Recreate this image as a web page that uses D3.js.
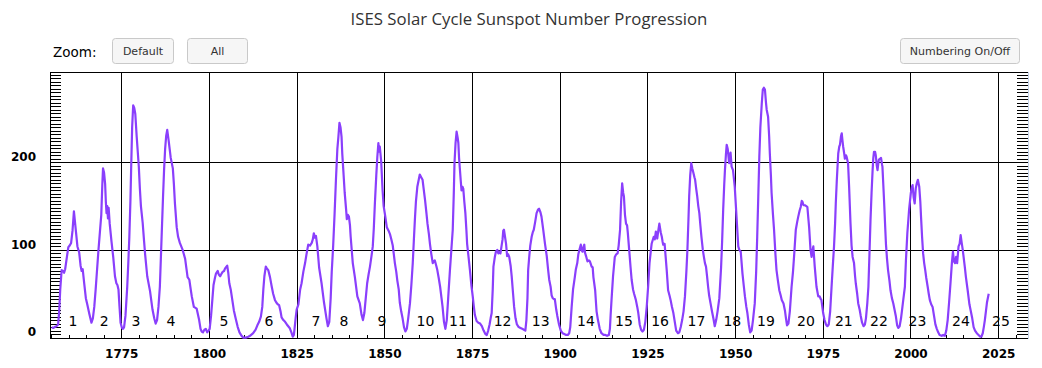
<!DOCTYPE html>
<html>
<head>
<meta charset="utf-8">
<script src="https://cdn.jsdelivr.net/npm/d3@7"></script>
<style>
  html, body { margin: 0; padding: 0; background: #ffffff; }
  svg { display: block; }
</style>
</head>
<body>
<svg id="chart" width="1042" height="368"></svg>
<script>
// ---------------- DATA ----------------
const chartTitle = "ISES Solar Cycle Sunspot Number Progression";
const buttonLabels = ["Default", "All", "Numbering On/Off"];

// Smoothed sunspot number: [year, value]
const ssnSeries = [
  // cycle 1
  [1755.2,12],[1755.6,11],[1756.0,12],[1756.5,13],[1757.0,15],[1757.3,30],[1757.6,55],[1758.0,77],[1758.4,76],[1758.7,74],[1759.0,78],[1759.5,92],[1759.9,103],[1760.3,105],[1760.7,108],[1761.1,122],[1761.5,144],[1761.8,132],[1762.1,120],[1762.5,104],[1763.0,97],[1763.4,82],[1763.7,76],[1764.0,78],[1764.4,63],[1764.9,45],[1765.3,38],[1765.9,27],[1766.5,17],
  // cycle 2
  [1766.9,22],[1767.3,35],[1767.7,55],[1768.0,72],[1768.5,100],[1768.9,120],[1769.3,140],[1769.6,175],[1769.8,193],[1770.1,188],[1770.4,175],[1770.6,155],[1770.8,142],[1771.0,150],[1771.2,136],[1771.4,148],[1771.7,130],[1772.2,110],[1772.7,92],[1773.2,70],[1773.6,62],[1773.9,60],[1774.2,55],[1774.5,35],[1774.8,17],[1775.2,11],[1775.5,10],
  // cycle 3
  [1775.8,12],[1776.2,25],[1776.7,58],[1777.0,85],[1777.3,115],[1777.6,155],[1777.8,190],[1778.1,240],[1778.4,265],[1778.7,262],[1779.0,255],[1779.4,229],[1779.7,212],[1780.0,195],[1780.3,170],[1780.6,150],[1781.1,131],[1781.5,110],[1781.8,95],[1782.4,70],[1783.2,53],[1783.9,32],[1784.4,22],[1784.8,16],
  // cycle 4
  [1785.2,20],[1785.6,35],[1786.0,58],[1786.5,115],[1786.9,160],[1787.2,191],[1787.5,215],[1787.8,230],[1788.1,237],[1788.5,225],[1788.8,215],[1789.1,205],[1789.4,199],[1789.7,193],[1790.0,175],[1790.3,153],[1790.8,126],[1791.2,115],[1791.7,108],[1792.5,100],[1793.2,90],[1793.6,78],[1793.9,69],[1794.4,66],[1794.8,55],[1795.1,47],[1795.7,35],[1796.5,33],[1797.2,20],[1797.6,10],[1797.9,7],[1798.3,6],[1798.7,9],[1799.1,10],[1799.5,6],[1799.9,8],
  // cycle 5
  [1800.2,10],[1800.6,25],[1801.0,45],[1801.3,60],[1801.7,68],[1802.0,73],[1802.5,76],[1802.8,72],[1803.2,70],[1803.6,73],[1803.9,75],[1804.3,76],[1804.6,79],[1805.2,82],[1805.5,74],[1805.8,62],[1806.2,55],[1806.5,47],[1807.1,31],[1807.6,22],[1808.2,12],[1808.7,6],[1809.3,2],[1809.8,0],[1810.5,0],[1811.2,1],[1811.7,2],
  // cycle 6
  [1812.6,5],[1813.3,9],[1813.8,14],[1814.3,18],[1814.8,24],[1815.2,35],[1815.5,55],[1815.8,70],[1816.2,81],[1816.5,79],[1816.9,77],[1817.4,69],[1817.9,58],[1818.3,50],[1818.8,43],[1819.2,40],[1819.6,38],[1820.0,37],[1820.4,30],[1820.7,23],[1821.2,20],[1821.7,18],[1822.2,15],[1822.6,13],[1823.0,11],[1823.5,6],[1823.9,1],[1824.2,3],
  // cycle 7
  [1824.4,10],[1824.7,22],[1825.0,32],[1825.5,38],[1826.0,55],[1826.4,62],[1826.9,75],[1827.4,85],[1827.8,95],[1828.3,106],[1828.8,105],[1829.3,108],[1829.6,112],[1829.9,119],[1830.2,114],[1830.5,116],[1830.9,104],[1831.4,80],[1832.1,62],[1832.8,40],[1833.5,22],[1833.9,13],
  // cycle 8
  [1834.3,18],[1834.7,45],[1835.0,75],[1835.4,104],[1835.8,140],[1836.2,180],[1836.6,215],[1836.9,229],[1837.2,245],[1837.5,240],[1837.8,229],[1838.0,210],[1838.3,191],[1838.7,165],[1839.1,146],[1839.3,135],[1839.6,140],[1839.9,138],[1840.2,128],[1840.4,115],[1841.0,85],[1841.6,69],[1842.3,47],[1843.0,39],[1843.5,26],[1843.9,20],
  // cycle 9
  [1844.3,28],[1844.7,45],[1845.1,62],[1845.5,72],[1845.9,81],[1846.3,92],[1846.7,104],[1847.0,125],[1847.3,153],[1847.7,185],[1848.0,206],[1848.3,222],[1848.5,212],[1848.7,218],[1849.1,201],[1849.5,168],[1849.8,150],[1850.2,140],[1850.7,126],[1851.2,122],[1851.6,118],[1852.0,112],[1852.4,105],[1852.7,95],[1853.0,85],[1853.4,75],[1853.7,65],[1854.1,55],[1854.4,40],[1854.8,30],[1855.2,22],[1855.6,12],[1856.0,7],
  // cycle 10
  [1856.4,10],[1856.8,22],[1857.3,39],[1857.7,60],[1858.1,85],[1858.4,110],[1858.7,134],[1859.0,155],[1859.4,172],[1859.8,180],[1860.1,186],[1860.5,183],[1860.9,180],[1861.2,170],[1861.6,157],[1862.0,142],[1862.3,130],[1862.7,118],[1863.0,107],[1863.4,95],[1863.8,85],[1864.1,87],[1864.4,88],[1864.8,82],[1865.1,77],[1865.5,68],[1865.9,58],[1866.3,45],[1866.6,35],[1867.0,18],[1867.4,10],
  // cycle 11
  [1867.8,20],[1868.2,45],[1868.7,77],[1869.1,100],[1869.5,123],[1869.8,165],[1870.0,199],[1870.3,222],[1870.6,235],[1870.9,228],[1871.1,222],[1871.3,205],[1871.5,194],[1871.8,178],[1872.0,168],[1872.3,172],[1872.5,170],[1872.8,155],[1873.1,142],[1873.4,122],[1873.6,107],[1874.0,92],[1874.4,77],[1874.8,60],[1875.2,47],[1875.5,36],[1875.8,26],[1876.3,19],[1876.8,17],[1877.3,16],[1877.8,13],[1878.3,8],[1878.8,4],[1879.2,3],[1879.6,8],
  // cycle 12
  [1880.0,15],[1880.3,22],[1880.6,28],[1880.9,55],[1881.1,81],[1881.5,92],[1881.8,98],[1882.2,100],[1882.5,96],[1882.8,98],[1883.1,96],[1883.4,104],[1883.7,112],[1883.9,122],[1884.1,123],[1884.4,115],[1884.7,107],[1885.0,93],[1885.3,95],[1885.6,92],[1886.0,82],[1886.3,70],[1886.7,50],[1887.0,35],[1887.4,22],[1887.8,15],[1888.3,12],[1888.8,11],[1889.3,10],[1889.8,9],[1890.2,8],
  // cycle 13
  [1890.5,20],[1890.8,45],[1891.0,77],[1891.3,92],[1891.6,105],[1892.0,115],[1892.3,120],[1892.6,123],[1893.0,132],[1893.4,142],[1893.8,146],[1894.1,147],[1894.5,143],[1894.8,138],[1895.3,123],[1895.8,107],[1896.3,93],[1896.7,77],[1897.0,66],[1897.4,58],[1897.7,48],[1898.0,45],[1898.3,44],[1898.6,44],[1899.0,32],[1899.3,25],[1899.8,15],[1900.3,8],[1900.8,5],[1901.3,4],[1901.8,3],[1902.3,3],[1902.7,5],
  // cycle 14
  [1903.0,12],[1903.4,35],[1903.8,55],[1904.3,69],[1904.6,78],[1905.0,85],[1905.3,95],[1905.6,100],[1906.0,106],[1906.2,100],[1906.5,98],[1906.8,104],[1907.0,106],[1907.2,97],[1907.5,93],[1907.9,87],[1908.3,88],[1908.6,87],[1909.1,81],[1909.4,80],[1909.6,69],[1910.1,54],[1910.5,30],[1910.9,20],[1911.4,10],[1911.9,5],[1912.5,3],[1913.0,3],[1913.5,2],[1914.0,3],[1914.3,10],
  // cycle 15
  [1914.5,25],[1914.8,45],[1915.2,70],[1915.7,92],[1916.1,95],[1916.5,96],[1916.8,105],[1917.2,123],[1917.5,155],[1917.8,176],[1918.1,165],[1918.3,161],[1918.6,140],[1918.9,130],[1919.2,128],[1919.4,120],[1919.8,100],[1920.2,80],[1920.5,66],[1920.9,55],[1921.2,50],[1921.7,43],[1922.1,35],[1922.4,28],[1922.8,15],[1923.2,9],[1923.6,7],[1924.0,9],
  // cycle 16
  [1924.4,18],[1924.8,35],[1925.2,58],[1925.6,85],[1926.0,100],[1926.2,107],[1926.8,115],[1927.1,112],[1927.4,121],[1927.8,113],[1928.1,122],[1928.4,130],[1928.8,120],[1929.1,115],[1929.3,110],[1929.5,106],[1929.9,107],[1930.2,92],[1930.5,77],[1930.9,54],[1931.3,48],[1931.6,43],[1932.0,35],[1932.4,28],[1932.8,18],[1933.2,8],[1933.7,5],[1934.1,6],
  // cycle 17
  [1934.5,12],[1934.9,20],[1935.3,30],[1935.7,47],[1936.1,75],[1936.4,100],[1936.7,135],[1936.9,161],[1937.2,185],[1937.5,199],[1937.8,193],[1938.1,188],[1938.4,183],[1938.6,180],[1938.9,170],[1939.2,161],[1939.5,150],[1939.8,142],[1940.1,128],[1940.4,115],[1940.8,100],[1941.1,92],[1941.4,85],[1941.7,81],[1942.0,70],[1942.3,58],[1942.6,48],[1943.0,39],[1943.4,30],[1943.8,22],[1944.2,13],
  // cycle 18
  [1944.6,20],[1945.0,30],[1945.5,45],[1946.0,80],[1946.3,110],[1946.6,146],[1946.9,175],[1947.1,191],[1947.4,210],[1947.6,220],[1947.9,215],[1948.0,211],[1948.3,199],[1948.5,205],[1948.7,211],[1949.0,195],[1949.4,191],[1949.9,172],[1950.4,138],[1950.9,104],[1951.2,100],[1951.6,98],[1952.1,73],[1952.5,58],[1952.8,47],[1953.2,35],[1953.5,28],[1953.9,15],[1954.3,6],
  // cycle 19
  [1954.7,8],[1955.1,20],[1955.6,39],[1956.0,75],[1956.3,115],[1956.6,160],[1956.9,206],[1957.2,240],[1957.6,267],[1957.9,283],[1958.2,285],[1958.5,283],[1958.8,268],[1959.0,260],[1959.4,252],[1959.7,230],[1959.9,210],[1960.2,185],[1960.4,165],[1960.8,140],[1961.1,123],[1961.5,95],[1961.8,77],[1962.2,65],[1962.6,54],[1963.0,48],[1963.3,43],[1963.8,39],[1964.2,31],[1964.5,22],[1964.8,14],
  // cycle 20
  [1965.2,16],[1965.6,30],[1966.1,58],[1966.5,75],[1966.8,92],[1967.3,123],[1967.7,132],[1968.0,138],[1968.4,145],[1968.7,149],[1969.0,156],[1969.2,155],[1969.5,151],[1969.9,151],[1970.3,150],[1970.6,149],[1970.9,135],[1971.1,126],[1971.5,100],[1971.8,92],[1972.0,98],[1972.3,104],[1972.7,81],[1973.2,58],[1973.7,47],[1974.1,47],[1974.4,44],[1974.6,43],[1975.1,28],[1975.5,20],[1975.9,15],[1976.3,13],
  // cycle 21
  [1976.7,15],[1977.1,30],[1977.5,58],[1977.9,85],[1978.2,104],[1978.5,130],[1978.7,153],[1979.0,180],[1979.4,210],[1979.7,218],[1979.9,220],[1980.2,230],[1980.4,233],[1980.6,225],[1980.8,218],[1981.1,210],[1981.3,204],[1981.6,208],[1981.8,206],[1982.2,199],[1982.5,172],[1982.9,130],[1983.2,105],[1983.5,92],[1983.9,85],[1984.2,70],[1984.4,62],[1984.8,50],[1985.1,39],[1985.5,32],[1985.8,25],[1986.2,17],[1986.6,13],
  // cycle 22
  [1987.0,15],[1987.3,22],[1987.7,40],[1988.0,58],[1988.3,95],[1988.6,134],[1988.9,165],[1989.2,191],[1989.4,205],[1989.6,212],[1989.9,212],[1990.1,208],[1990.4,196],[1990.6,191],[1990.8,198],[1991.0,203],[1991.3,204],[1991.6,205],[1991.9,197],[1992.0,195],[1992.3,170],[1992.5,153],[1992.8,125],[1993.0,107],[1993.3,90],[1993.6,77],[1994.0,65],[1994.3,54],[1994.7,45],[1995.1,39],[1995.4,33],[1995.8,25],[1996.2,14],[1996.5,11],
  // cycle 23
  [1996.9,13],[1997.3,22],[1997.7,35],[1998.0,45],[1998.4,58],[1998.7,88],[1999.1,119],[1999.4,135],[1999.6,146],[2000.1,165],[2000.4,172],[2000.6,174],[2000.9,160],[2001.2,153],[2001.5,170],[2001.8,176],[2002.1,180],[2002.5,172],[2002.8,155],[2003.0,138],[2003.3,115],[2003.6,96],[2003.9,85],[2004.2,77],[2004.5,68],[2004.9,58],[2005.2,50],[2005.5,43],[2005.9,38],[2006.3,35],[2006.7,25],[2007.1,15],[2007.5,10],[2007.9,6],[2008.3,3],[2008.9,2],[2009.3,3],
  // cycle 24
  [2009.8,2],[2010.2,8],[2010.6,20],[2011.0,40],[2011.4,62],[2011.8,85],[2012.1,98],[2012.4,87],[2012.7,85],[2013.0,92],[2013.3,85],[2013.7,104],[2014.0,107],[2014.3,117],[2014.6,108],[2014.9,100],[2015.2,90],[2015.5,80],[2015.8,69],[2016.3,54],[2016.8,38],[2017.2,30],[2017.6,22],[2018.0,12],[2018.4,8],[2018.9,5],[2019.4,3],[2019.9,1],[2020.2,1],
  // cycle 25
  [2020.6,5],[2020.9,12],[2021.2,20],[2021.5,30],[2021.8,40],[2022.3,50]
];

const cycleNumbers = ["1","2","3","4","5","6","7","8","9","10","11","12","13","14","15","16","17","18","19","20","21","22","23","24","25"];
const cycleLabelYears = [1761.2,1770.1,1779.2,1789.2,1804.3,1817.1,1830.5,1838.5,1849.3,1861.7,1871.0,1883.7,1894.6,1907.5,1918.3,1928.6,1939.0,1949.2,1958.8,1970.2,1981.0,1991.0,2002.0,2014.4,2025.8];

const xMajorTicks = [1775, 1800, 1825, 1850, 1875, 1900, 1925, 1950, 1975, 2000, 2025];
const yLabelTicks = [0, 100, 200];
const yGridTicks = [100, 200];

// ---------------- LAYOUT ----------------
const L = 50, R = 1028, T = 72.5, B = 337.6;
const svg = d3.select("#chart");

const x = d3.scaleLinear().domain([1754.68, 2033.5]).range([L, R]);
const y = d3.scaleLinear().domain([0, 302.4]).range([B, T]);

const xMinorTicks = d3.range(1755, 2034, 5);
const yMinorTicks = d3.range(0, 303, 4);

// title
svg.append("text")
  .attr("x", 529).attr("y", 25)
  .attr("text-anchor", "middle")
  .style("font-family", "'Open Sans', sans-serif")
  .style("font-size", "16.8px")
  .style("fill", "#333333")
  .text(chartTitle);

// Zoom label + buttons
svg.append("text")
  .attr("x", 53).attr("y", 57)
  .style("font-family", "'DejaVu Sans', Verdana, sans-serif")
  .style("font-size", "13.5px")
  .style("fill", "#000")
  .text("Zoom:");

const buttons = [
  {label: buttonLabels[0], x0: 112.5, x1: 173.5},
  {label: buttonLabels[1], x0: 187.5, x1: 247.5},
  {label: buttonLabels[2], x0: 900.5, x1: 1019.5}
];
const btn = svg.append("g").selectAll("g").data(buttons).join("g");
btn.append("rect")
  .attr("x", d => d.x0).attr("y", 38.5)
  .attr("width", d => d.x1 - d.x0).attr("height", 25)
  .attr("rx", 3).attr("ry", 3)
  .attr("fill", "#f6f6f6").attr("stroke", "#c9c9c9");
btn.append("text")
  .attr("x", d => (d.x0 + d.x1) / 2).attr("y", 55)
  .attr("text-anchor", "middle")
  .style("font-family", "'DejaVu Sans', Verdana, sans-serif")
  .style("font-size", "11px")
  .style("fill", "#333")
  .text(d => d.label);

// plot group
const g = svg.append("g");

// horizontal gridlines
g.append("g")
  .attr("transform", `translate(${L},0)`)
  .call(d3.axisRight(y).tickValues(yGridTicks).tickSize(R - L).tickFormat(""))
  .call(s => s.select(".domain").remove())
  .call(s => s.selectAll("line").attr("stroke", "#000").attr("shape-rendering", "crispEdges"));

// vertical gridlines
g.append("g")
  .attr("transform", `translate(0,${B})`)
  .call(d3.axisTop(x).tickValues(xMajorTicks).tickSize(B - T).tickFormat(""))
  .call(s => s.select(".domain").remove())
  .call(s => s.selectAll("line").attr("stroke", "#000").attr("shape-rendering", "crispEdges"));

// left minor ticks (inside)
g.append("g")
  .attr("transform", `translate(${L},0)`)
  .call(d3.axisRight(y).tickValues(yMinorTicks).tickSize(11).tickFormat(""))
  .call(s => s.select(".domain").remove())
  .call(s => s.selectAll("line").attr("stroke", "#000").attr("shape-rendering", "crispEdges"));

// right minor ticks (inside)
g.append("g")
  .attr("transform", `translate(${R},0)`)
  .call(d3.axisLeft(y).tickValues(yMinorTicks).tickSize(11).tickFormat(""))
  .call(s => s.select(".domain").remove())
  .call(s => s.selectAll("line").attr("stroke", "#000").attr("shape-rendering", "crispEdges"));

// bottom minor ticks (inside)
g.append("g")
  .attr("transform", `translate(0,${B + 1})`)
  .call(d3.axisTop(x).tickValues(xMinorTicks).tickSize(4).tickFormat(""))
  .call(s => s.select(".domain").remove())
  .call(s => s.selectAll("line").attr("stroke", "#000").attr("shape-rendering", "crispEdges"));

// y labels
g.append("g")
  .attr("transform", `translate(${L},0)`)
  .call(d3.axisLeft(y).tickValues(yLabelTicks).tickSize(0).tickPadding(14))
  .call(s => s.select(".domain").remove())
  .call(s => s.selectAll("text")
    .attr("transform", "translate(0,-5.5)")
    .style("font-family", "'DejaVu Sans', Verdana, sans-serif")
    .style("font-weight", "bold")
    .style("font-size", "12px")
    .style("fill", "#000"));

// x labels
g.append("g")
  .attr("transform", `translate(0,${B + 1})`)
  .call(d3.axisBottom(x).tickValues(xMajorTicks).tickSize(0).tickPadding(11).tickFormat(d3.format("d")))
  .call(s => s.select(".domain").remove())
  .call(s => s.selectAll("text")
    .style("font-family", "'DejaVu Sans', Verdana, sans-serif")
    .style("font-weight", "bold")
    .style("font-size", "12px")
    .style("fill", "#000"));

// frame
g.append("line").attr("x1", L).attr("x2", R).attr("y1", 72.5).attr("y2", 72.5).attr("stroke", "#000");
g.append("line").attr("x1", L + 0.5).attr("x2", L + 0.5).attr("y1", 72).attr("y2", 339).attr("stroke", "#000");
g.append("line").attr("x1", L).attr("x2", R).attr("y1", 338.5).attr("y2", 338.5).attr("stroke", "#000");
g.append("line").attr("x1", R + 0.5).attr("x2", R + 0.5).attr("y1", 72).attr("y2", 339).attr("stroke", "#c5d3ea");

// cycle numbers
g.append("g").selectAll("text")
  .data(cycleNumbers)
  .join("text")
  .attr("x", (d, i) => x(cycleLabelYears[i]))
  .attr("y", 326)
  .attr("text-anchor", "middle")
  .style("font-family", "'DejaVu Sans', Verdana, sans-serif")
  .style("font-size", "14px")
  .style("fill", "#000")
  .text(d => d);

// sunspot line
const line = d3.line().x(d => x(d[0])).y(d => y(d[1]));
g.append("path")
  .datum(ssnSeries)
  .attr("d", line)
  .attr("fill", "none")
  .attr("stroke", "#8a3ffc")
  .attr("stroke-width", 2.2)
  .attr("stroke-linejoin", "round");
</script>
</body>
</html>
